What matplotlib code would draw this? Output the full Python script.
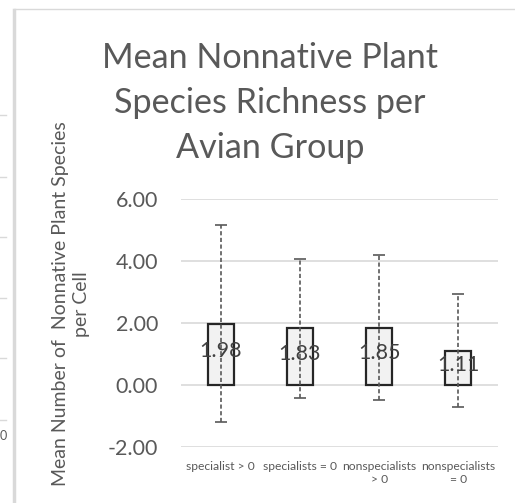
import matplotlib.pyplot as plt
import numpy as np
from matplotlib.lines import Line2D

plt.rcParams["font.family"] = ["Lato", "DejaVu Sans"]

groups = ["specialist > 0", "specialists = 0", "nonspecialists\n> 0", "nonspecialists\n= 0"]
means = [1.98, 1.83, 1.85, 1.11]
sds = [3.18, 2.24, 2.33, 1.82]
yticks = [-2, 0, 2, 4, 6]

grey_txt = "#595959"

fig = plt.figure(figsize=(5.15, 5.03), dpi=100)
ax = fig.add_axes([181/515, 1 - 447/503, 317/515, 248/503])

x = np.arange(len(groups))
bars = ax.bar(x, means, width=0.33, color="#f2f2f2", edgecolor="#262626", linewidth=1.6, zorder=2)
eb = ax.errorbar(x, means, yerr=sds, fmt="none", ecolor=grey_txt, elinewidth=1.2,
                 capsize=4.5, capthick=1.2, zorder=3)
for part in eb[2]:
    part.set_linestyle((0, (2.5, 1.5)))

for xi, m in zip(x, means):
    ax.text(xi, m / 2 + 0.1, "%.2f" % m, ha="center", va="center", fontsize=15.5, color="#404040", zorder=4)

ax.set_ylim(-2, 6)
ax.set_xlim(-0.5, len(groups) - 0.5)
ax.set_yticks(yticks)
ax.set_yticklabels(["%.2f" % v for v in yticks], fontsize=15.5, color=grey_txt)
ax.set_xticks(x)
ax.set_xticklabels(groups, fontsize=8.7, color=grey_txt, linespacing=1.2)
ax.tick_params(axis="y", length=0, pad=16.5)
ax.tick_params(axis="x", length=0, pad=10)
ax.yaxis.grid(True, color="#d9d9d9", linewidth=1.2)
ax.set_axisbelow(True)
for s in ax.spines.values():
    s.set_visible(False)

fig.text(270/515, 1 - 103/503, "Mean Nonnative Plant\nSpecies Richness per\nAvian Group",
         ha="center", va="center", fontsize=24.6, color=grey_txt, linespacing=1.5)
fig.text(71/515, 1 - 304/503, "Mean Number of  Nonnative Plant Species\nper Cell",
         ha="center", va="center", rotation=90, fontsize=14, color=grey_txt, linespacing=1.3)

# neighbouring chart edges visible in the screenshot
fig.add_artist(Line2D([14/515, 14/515], [0, 1 - 10/503], transform=fig.transFigure, color="#d9d9d9", lw=2.5))
fig.add_artist(Line2D([14/515, 1], [1 - 9/503, 1 - 9/503], transform=fig.transFigure, color="#d9d9d9", lw=1))
for yy in [115, 177, 237, 298, 358, 420]:
    fig.add_artist(Line2D([0, 6/515], [1 - yy/503, 1 - yy/503], transform=fig.transFigure, color="#d9d9d9", lw=1))
fig.text(0, 1 - 436/503, "0", fontsize=9, color=grey_txt, va="center")

fig.savefig("out.png", dpi=100)
